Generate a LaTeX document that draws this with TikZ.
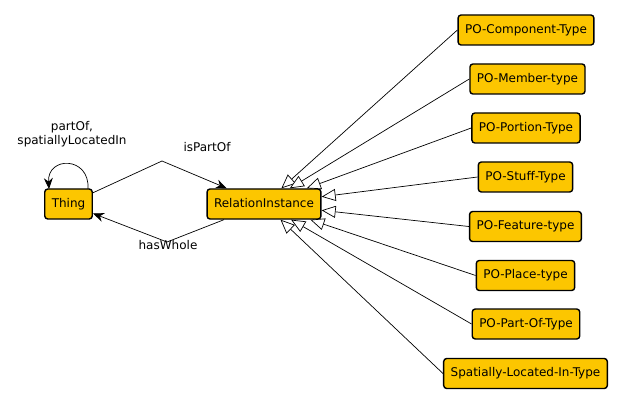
\documentclass[tikz,border=0pt]{standalone}
\usepackage{fontspec}
\setmainfont{DejaVu Sans}
\usetikzlibrary{arrows.meta}
\definecolor{boxfill}{RGB}{252,198,0}
\tikzset{
  cls/.style={draw=black, line width=1.4pt, fill=boxfill, rounded corners=3pt,
    minimum height=30pt, inner xsep=7pt, inner ysep=0pt,
    font=\fontsize{12}{14}\selectfont, text height=9pt, text depth=2.5pt},
  isa/.style={draw=black, line width=0.7pt, -{Triangle[open, length=14pt, width=12pt, fill=white]}},
  rel/.style={draw=black, line width=0.7pt, -{Stealth[length=11pt, width=9pt]}},
  lbl/.style={font=\fontsize{12}{14}\selectfont, align=center, inner sep=0pt}
}
\begin{document}
\begin{tikzpicture}[x=1pt, y=-1pt]
\useasboundingbox (0,0) rectangle (625,404);
\node[cls] (thing) at (68.5,204) {Thing};
\node[cls] (ri) at (264,204) {RelationInstance};
\node[cls] (c1) at (526,30) {PO-Component-Type};
\node[cls] (c2) at (527.5,79) {PO-Member-type};
\node[cls] (c3) at (526,128) {PO-Portion-Type};
\node[cls] (c4) at (525.5,177) {PO-Stuff-Type};
\node[cls] (c5) at (525.5,226.5) {PO-Feature-type};
\node[cls] (c6) at (525.5,275.5) {PO-Place-type};
\node[cls] (c7) at (526,324) {PO-Part-Of-Type};
\node[cls] (c8) at (525.5,373.5) {Spatially-Located-In-Type};
\foreach \c in {c1,c2,c3,c4,c5,c6,c7,c8}
  \draw[isa] (\c.west) -- (ri);
\coordinate (b1) at (162,161);
\coordinate (b2) at (167,242);
\draw[rel] (thing) -- (b1) -- (ri);
\draw[rel] (ri) -- (b2) -- (thing);
\coordinate (l1) at (88,189);
\coordinate (l2) at (49,189);
\draw[rel] (l1) .. controls (90,156) and (47,156) .. (l2);
\node[lbl] (lpo) at (72,134) {partOf,\\spatiallyLocatedIn};
\node[lbl] (lip) at (207,147) {isPartOf};
\node[lbl] (lhw) at (168,245) {hasWhole};
\end{tikzpicture}
\end{document}
